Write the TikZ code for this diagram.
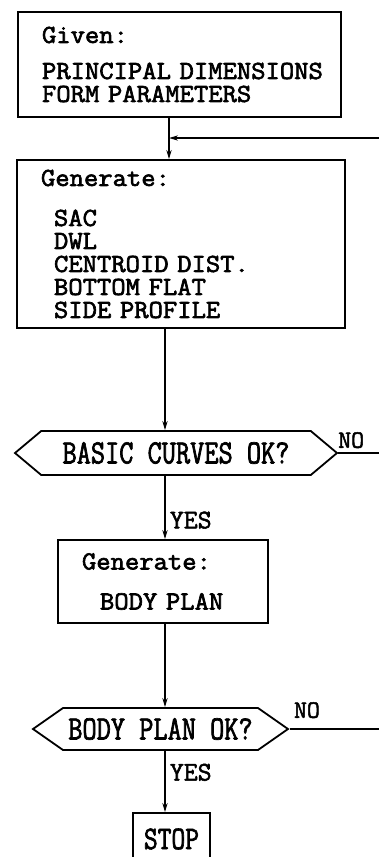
\documentclass[tikz,border=0pt]{standalone}
\usepackage{fontspec}
\newfontfamily\boxfont[FakeStretch=1.07, FakeBold=2.5]{Latin Modern Mono}
\newfontfamily\tallfont[FakeStretch=0.81, FakeBold=2]{Latin Modern Mono}
\newfontfamily\yesfont[FakeBold=2]{Latin Modern Mono}
\usetikzlibrary{shapes,arrows.meta,positioning,calc}

\begin{document}
\begin{tikzpicture}[x=0.5pt,y=-0.5pt, line width=0.9pt,
        box/.style={draw, align=left, inner xsep=12pt, font=\boxfont\fontsize{13}{11.5}\selectfont},
        decision/.style={draw, signal, signal to=west and east, inner sep=0pt, font=\tallfont\fontsize{17}{18}\selectfont},
        flow/.style={-{Stealth[length=4.5pt,width=2.6pt]}},
        lbl/.style={font=\yesfont\fontsize{13.5}{14}\selectfont, inner sep=2pt},
        nolbl/.style={font=\yesfont\fontsize{12.5}{13}\selectfont, inner sep=2pt}]
        \useasboundingbox (0,0) rectangle (379,857);

        % Boxes
        \node[box, text width=137.5pt, minimum height=52.5pt] (given) at (179.5,64.5)
            {Given:\\[6.5pt]\mbox{PRINCIPAL DIMENSIONS}\\\mbox{FORM PARAMETERS}};
        \node[box, text width=140pt, minimum height=84pt] (gen1) at (181,244)
            {Generate:\\[8.5pt]\hspace*{6.5pt}SAC\\\hspace*{6.5pt}DWL\\\hspace*{6.5pt}CENTROID DIST.\\\hspace*{6.5pt}BOTTOM FLAT\\\hspace*{6.5pt}SIDE PROFILE};
        \node[box, text width=81pt, minimum height=41.5pt] (gen2) at (163,581.5)
            {Generate:\\[8.5pt]\hspace*{9pt}BODY PLAN};
        \node[draw, minimum width=38.5pt, minimum height=26pt, inner sep=0pt, font=\tallfont\fontsize{16.5}{17}\selectfont] (stop) at (171.5,839) {STOP};

        % Decisions
        \node[decision, signal pointer angle=80, minimum width=161pt, minimum height=22pt] (basic) at (176,453) {BASIC CURVES OK?};
        \node[decision, signal pointer angle=70, minimum width=127.5pt, minimum height=21pt] (bodyok) at (160.5,729) {BODY PLAN OK?};

        % Connectors
        \coordinate (join) at (169,138);
        \coordinate (spine) at (165,0);
        \coordinate (loopin) at (381,138);
        \coordinate (loop1) at (381,453);
        \coordinate (loop2) at (381,729);
        \draw (given.south -| join) -- (join);
        \draw[flow] (join) -- (gen1.north -| join);
        \draw[flow] (loopin) -- (join);
        \draw[flow] (gen1.south -| spine) -- (basic.north -| spine);
        \draw[flow] (basic.south -| spine) -- node[lbl, right, pos=0.7] (yes1) {YES} (gen2.north -| spine);
        \draw[flow] (gen2.south -| spine) -- (bodyok.north -| spine);
        \draw[flow] (bodyok.south -| spine) -- node[lbl, right, pos=0.35] (yes2) {YES} (stop.north -| spine);
        \draw (basic.east) -- node[nolbl, above, pos=0.3] (no1) {NO} (loop1);
        \draw (bodyok.east) -- node[nolbl, above, pos=0.19, yshift=3pt] (no2) {NO} (loop2);
    \end{tikzpicture}
\end{document}
